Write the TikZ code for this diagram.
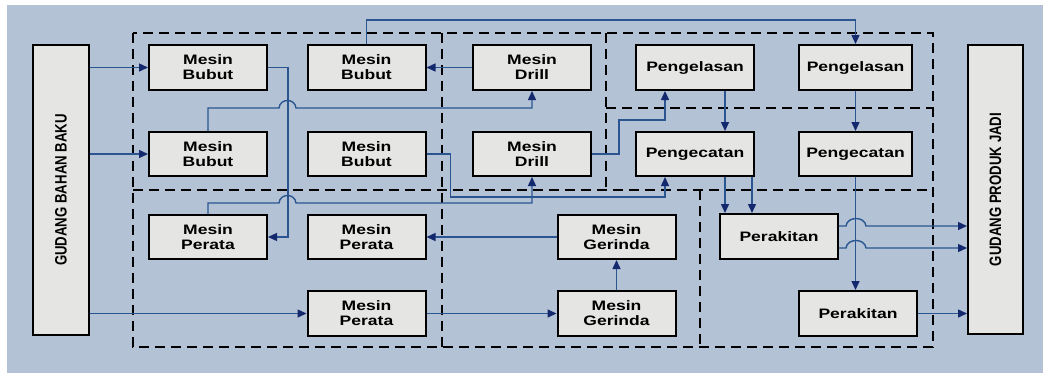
\documentclass[tikz,border=0pt]{standalone}
\usepackage{fontspec}
\setmainfont{Liberation Sans}[FakeStretch=1.28]
\newfontfamily\rotfont{Liberation Sans}
\usetikzlibrary{arrows.meta,calc}
\definecolor{bgblue}{HTML}{B3C2D5}
\definecolor{boxfill}{HTML}{E5E5E3}
\definecolor{linecol}{HTML}{2A5590}
\definecolor{arrowcol}{HTML}{14286E}
\tikzset{
  box/.style={draw=black, line width=2pt, fill=boxfill, minimum width=118pt,
    minimum height=44pt, inner sep=0pt, align=center,
    font=\fontsize{13.7}{15}\selectfont\bfseries},
  gudang/.style={draw=black, line width=2pt, fill=boxfill, inner sep=0pt},
  dashbox/.style={draw=black, line width=2.4pt, dash pattern=on 10pt off 6pt},
  conn/.style={draw=linecol, line width=1.4pt, -{Triangle[length=9pt,width=8pt,color=arrowcol]}},
  plain/.style={draw=linecol, line width=1.4pt}
}
\begin{document}
\begin{tikzpicture}[x=1pt,y=-1pt]
\useasboundingbox (0,0) rectangle (1043,373);
\fill[white] (0,0) rectangle (1043,373);
\fill[bgblue] (7,5) rectangle (1043,373);

% dashed regions
\draw[dashbox] (133,33) rectangle (933,347);
\draw[dashbox] (442,33) -- (442,347);
\draw[dashbox] (606,33) -- (606,190);
\draw[dashbox] (606,108) -- (933,108);
\draw[dashbox] (133,190) -- (933,190);
\draw[dashbox] (700,190) -- (700,347);

% warehouses
\node[gudang, minimum width=56pt, minimum height=290pt] (gbb) at (61,190) {};
\node[rotate=90, font=\fontsize{13.2}{15}\selectfont\rotfont\bfseries] at (gbb.center) {\scalebox{1}[1.25]{GUDANG BAHAN BAKU}};
\node[gudang, minimum width=55pt, minimum height=289pt] (gpj) at (995.5,189.5) {};
\node[rotate=90, font=\fontsize{13.2}{15}\selectfont\rotfont\bfseries] at (gpj.center) {\scalebox{1}[1.25]{GUDANG PRODUK JADI}};

% machines
\node[box, minimum height=45pt] (b11) at (208,67.5) {Mesin\\Bubut};
\node[box, minimum height=45pt] (b12) at (366.5,67.5) {Mesin\\Bubut};
\node[box, minimum height=45pt] (d1) at (532,67.5) {Mesin\\Drill};
\node[box, minimum height=45pt] (l1) at (695,67.5) {Pengelasan};
\node[box, minimum height=45pt, minimum width=113pt] (l2) at (855.5,67.5) {Pengelasan};
\node[box] (b21) at (208,154) {Mesin\\Bubut};
\node[box] (b22) at (366.5,154) {Mesin\\Bubut};
\node[box] (d2) at (532,154) {Mesin\\Drill};
\node[box] (c1) at (695,154) {Pengecatan};
\node[box, minimum width=113pt] (c2) at (855.5,154) {Pengecatan};
\node[box] (p1) at (208,237) {Mesin\\Perata};
\node[box] (p2) at (366.5,237) {Mesin\\Perata};
\node[box] (g1) at (616.5,237) {Mesin\\Gerinda};
\node[box, minimum height=45pt] (k1) at (779,236.5) {Perakitan};
\node[box, minimum height=45pt] (p3) at (366.5,313.5) {Mesin\\Perata};
\node[box, minimum height=45pt] (g2) at (616.5,313.5) {Mesin\\Gerinda};
\node[box, minimum height=45pt] (k2) at (858,313.5) {Perakitan};

% helper coordinates
\coordinate (c1a) at ([xshift=30pt]c1.south);
\coordinate (c1b) at ([xshift=57pt]c1.south);
\coordinate (c1l) at ([xshift=-30pt]c1.south);
\coordinate (l1a) at ([xshift=30pt]l1.south);
\coordinate (l1l) at ([xshift=-30pt]l1.south);
\coordinate (k1o1) at ([yshift=10.5pt]k1.east);
\coordinate (k1o2) at ([yshift=-11.5pt]k1.east);

% connectors
\draw[conn] (gbb.east |- b11.west) -- (b11.west);
\draw[conn] (gbb.east |- b21.west) -- (b21.west);
\draw[conn] (gbb.east |- p3.west) -- (p3.west);
\draw[conn] (b11.east) -- ++(20,0) |- (p1.east);
\draw[conn] (b21.north) |- (279,108) .. controls (280,98) and (295,98) .. (296,108) -| (d1.south);
\draw[conn] (d1.west) -- (b12.east);
\draw[conn] (b12.north) -- ++(0,-24) -| (l2.north);
\draw[conn] (b22.east) -- ++(24,0) -- ++(0,43) -| (c1l);
\draw[conn] (p1.north) |- (279,203) .. controls (280,193) and (295,193) .. (296,203) -| (d2.south);
\draw[conn] (d2.east) -- ++(27,0) -- ++(0,-34) -| (l1l);
\draw[conn] (l1a) -- (l1a |- c1.north);
\draw[conn] (l2.south) -- (c2.north);
\draw[conn] (c1a) -- (c1a |- k1.north);
\draw[conn] (c1b) -- (c1b |- k1.north);
\draw[conn] (c2.south) -- (c2.south |- k2.north);
\draw[conn] (k1o1) -- (846,226) .. controls (847,216) and (865,216) .. (866,226) -- (k1o1 -| gpj.west);
\draw[conn] (k1o2) -- (846,248) .. controls (847,238) and (865,238) .. (866,248) -- (k1o2 -| gpj.west);
\draw[conn] (k2.east) -- (k2.east -| gpj.west);
\draw[conn] (g2.north) -- (g1.south);
\draw[conn] (g1.west) -- (p2.east);
\draw[conn] (p3.east) -- (g2.west);
\end{tikzpicture}
\end{document}
